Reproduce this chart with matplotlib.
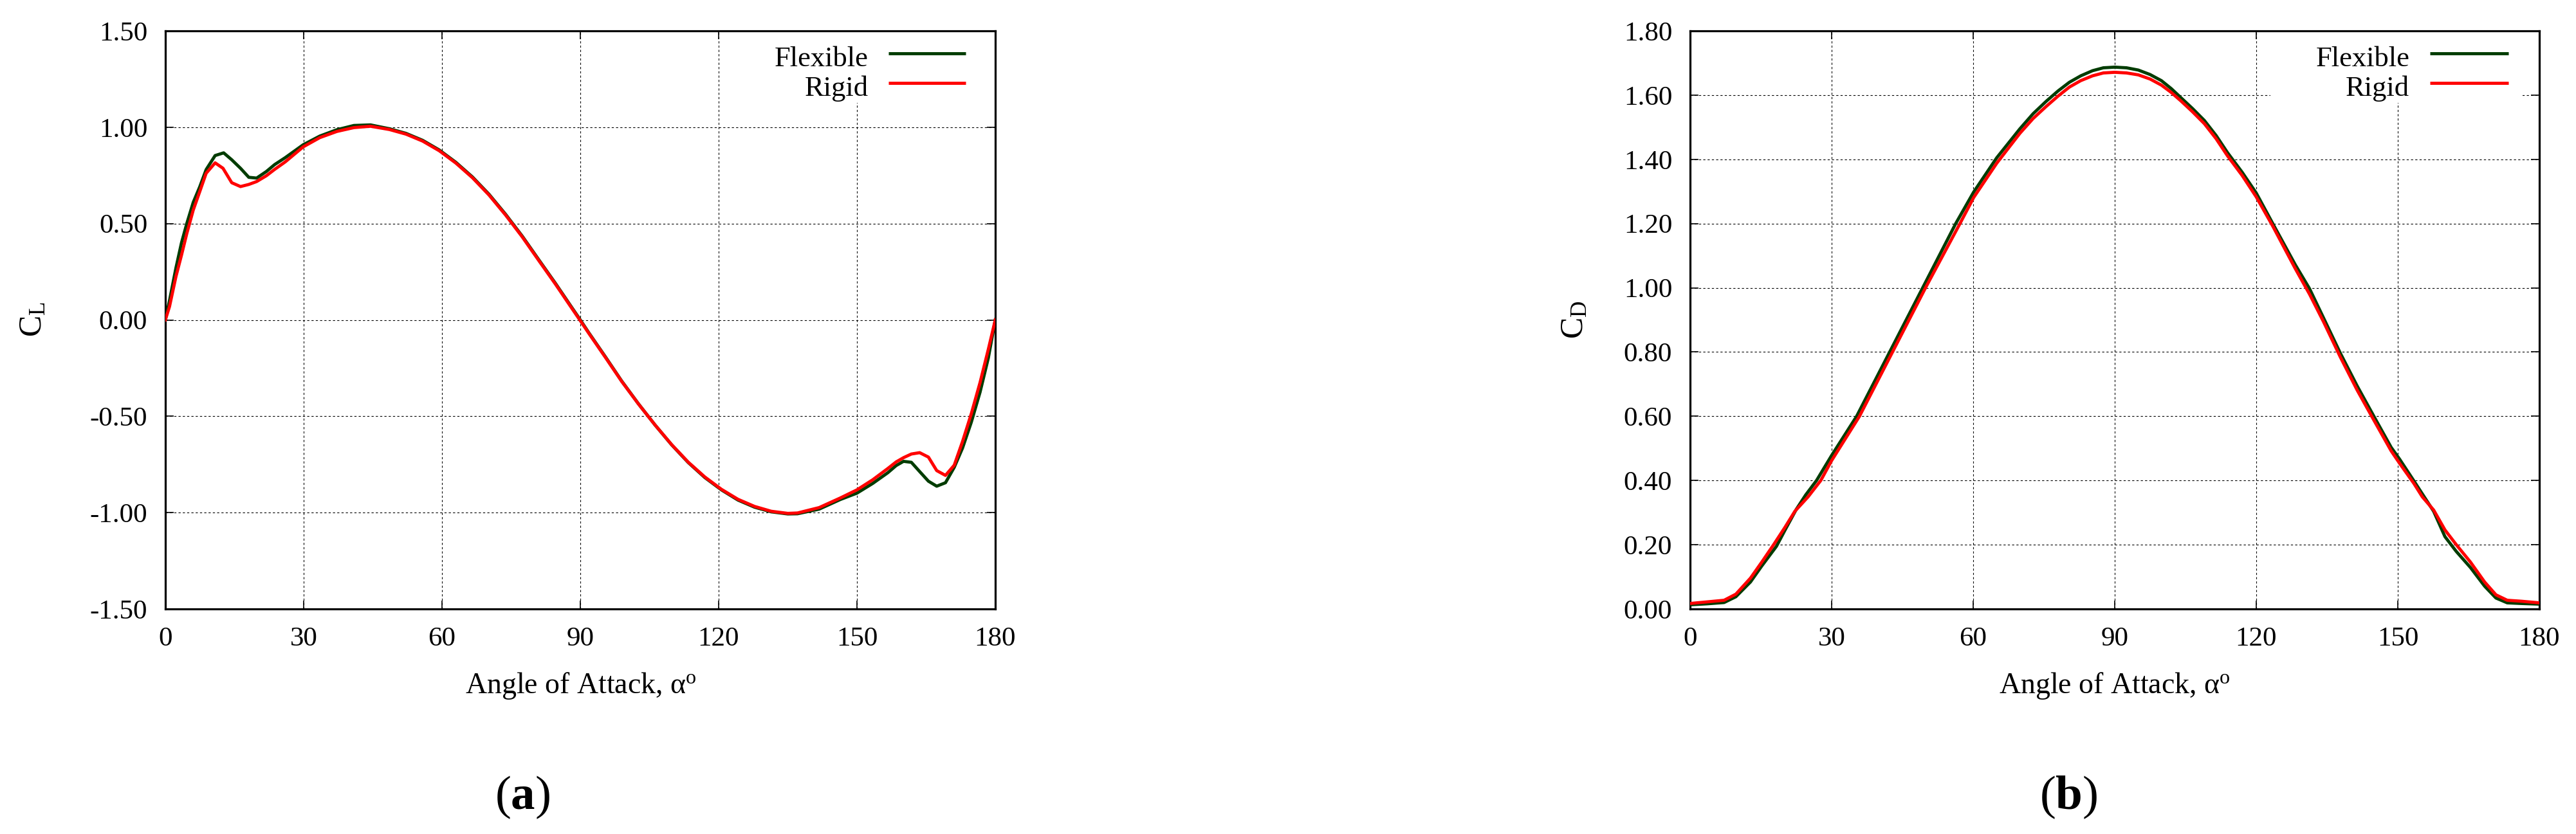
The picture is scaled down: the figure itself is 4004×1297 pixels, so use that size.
import matplotlib
matplotlib.use("Agg")
import matplotlib.pyplot as plt
from matplotlib.patches import Rectangle

plt.rcParams['font.family'] = ['Liberation Serif', 'DejaVu Serif']
plt.rcParams['mathtext.fontset'] = 'custom'
plt.rcParams['mathtext.rm'] = 'Liberation Serif'
plt.rcParams['mathtext.it'] = 'Liberation Serif:italic'
plt.rcParams['mathtext.bf'] = 'Liberation Serif:bold'

# ---------------- data ----------------
# Lift coefficient (panel a)
cl_flex_aoa = [0, 0.9, 2.3, 3.5, 4.65, 6.05, 7.45, 8.85, 10.8, 12.65, 14.4, 16.3, 18.1, 19.8,
               21.9, 23.7, 26.0, 29.9, 33.5, 37.2, 40.9, 44.5, 48.6, 52.2, 55.8, 59.4, 63.0,
               66.6, 70.2, 73.8, 77.4, 81.0, 84.6, 88.2, 90.0, 91.8, 95.4, 99.0, 102.6, 106.2,
               109.8, 113.4, 117.0, 120.6, 124.2, 127.8, 131.4, 135.0,
               137.1, 141.8, 146.4, 150.0, 153.4, 156.7, 158.5, 160.1, 161.8, 163.6, 165.5,
               167.3, 169.2, 171.1, 172.9, 174.8, 176.7, 178.5, 180.0]
cl_flex = [0.0, 0.10, 0.27, 0.40, 0.50, 0.61, 0.69, 0.78, 0.853, 0.867, 0.831, 0.787, 0.740, 0.736,
           0.770, 0.806, 0.842, 0.909, 0.954, 0.987, 1.009, 1.012, 0.992, 0.968, 0.932, 0.882,
           0.818, 0.742, 0.652, 0.548, 0.435, 0.312, 0.19, 0.063, 0.0, -0.065, -0.19, -0.318,
           -0.435, -0.545, -0.648, -0.74, -0.818, -0.882, -0.935, -0.972, -0.996, -1.007,
           -1.006, -0.982, -0.932, -0.899, -0.849, -0.793, -0.756, -0.734, -0.739, -0.787, -0.837,
           -0.863, -0.845, -0.765, -0.665, -0.531, -0.375, -0.197, 0.0]

cl_rigid_aoa = [0, 0.9, 2.3, 3.5, 4.65, 6.05, 7.45, 8.85, 10.8, 12.5, 14.4, 16.3, 18.1, 19.8,
                21.9, 23.7, 26.0, 29.9, 33.5, 37.2, 40.9, 44.5, 48.6, 52.2, 55.8, 59.4, 63.0,
                66.6, 70.2, 73.8, 77.4, 81.0, 84.6, 88.2, 90.0, 91.8, 95.4, 99.0, 102.6, 106.2,
                109.8, 113.4, 117.0, 120.6, 124.2, 127.8, 131.4, 135.0,
                137.1, 141.8, 146.4, 150.0, 153.4, 156.7, 158.5, 160.1, 161.8, 163.6, 165.5,
                167.3, 169.2, 171.1, 172.9, 174.8, 176.7, 178.5, 180.0]
cl_rigid = [0.0, 0.069, 0.225, 0.336, 0.448, 0.57, 0.665, 0.761, 0.815, 0.787, 0.712, 0.692, 0.703,
            0.718, 0.748, 0.781, 0.820, 0.898, 0.946, 0.978, 0.998, 1.005, 0.988, 0.964, 0.928,
            0.878, 0.814, 0.738, 0.648, 0.544, 0.431, 0.308, 0.186, 0.059, -0.004, -0.068,
            -0.193, -0.32, -0.436, -0.545, -0.647, -0.738, -0.815, -0.879, -0.931, -0.968,
            -0.993, -1.004,
            -1.002, -0.974, -0.924, -0.882, -0.830, -0.771, -0.737,
            -0.715, -0.696, -0.689, -0.712, -0.782, -0.807, -0.754, -0.631, -0.487, -0.325,
            -0.152, 0.0]

# Drag coefficient (panel b)
cd_flex_aoa = [0, 3.6, 7.2, 9.7, 12.8, 15.2, 18.3, 20.1, 22.5, 24.5, 26.8, 30.0, 35.3, 42.3,
               49.3, 56.3, 60.1, 65.0, 69.9, 72.7, 75.5, 78.0, 80.4, 82.8, 85.3, 87.6, 90.0,
               92.5, 95.0, 97.5, 99.9, 102.0, 104.1, 106.5, 109.0, 111.5, 113.9, 117.0,
               120.0, 123.5, 128.3, 131.3, 134.3, 137.8, 141.4, 145.0, 148.6, 150.4,
               153.4, 157.6, 160.0, 162.4, 165.4, 168.4, 170.8, 173.2, 176.2, 180.0]
cd_flex = [0.013, 0.016, 0.02, 0.038, 0.084, 0.134, 0.195, 0.245, 0.31, 0.355, 0.40, 0.478,
           0.60, 0.80, 1.0, 1.2, 1.298, 1.405, 1.495, 1.542, 1.581, 1.613, 1.64, 1.66, 1.676,
           1.685, 1.687, 1.685, 1.678, 1.664, 1.645, 1.62, 1.591, 1.558, 1.521, 1.474, 1.421,
           1.36, 1.295, 1.2, 1.071, 0.997, 0.905, 0.797, 0.694, 0.598, 0.503,
           0.466, 0.399, 0.304, 0.225, 0.179, 0.129, 0.071, 0.034, 0.019, 0.017, 0.015]

cd_rigid_aoa = [0, 3.6, 7.2, 9.7, 12.8, 15.2, 17.7, 20.1, 22.2, 25.0, 27.7, 30.0, 35.9, 42.9,
                49.9, 57.2, 60.1, 65.0, 69.9, 72.7, 75.5, 78.0, 80.4, 82.8, 85.3, 87.6, 90.0,
                92.5, 95.0, 97.5, 99.9, 102.0, 104.1, 106.5, 109.0, 111.5, 113.9, 117.0,
                120.0, 123.5, 128.3, 131.3, 134.3, 137.8, 141.4, 145.0, 148.6, 150.4,
                153.4, 155.2, 157.6, 160.0, 162.4, 165.4, 168.4, 170.8, 173.2, 176.2, 180.0]
cd_rigid = [0.017, 0.022, 0.027, 0.046, 0.096, 0.146, 0.2, 0.254, 0.304, 0.349, 0.4, 0.462,
            0.6, 0.8, 1.0, 1.2, 1.281, 1.388, 1.481, 1.527, 1.565, 1.597, 1.625, 1.645, 1.66,
            1.669, 1.671, 1.669, 1.663, 1.65, 1.631, 1.608, 1.581, 1.548, 1.511, 1.464, 1.411,
            1.35, 1.283, 1.192, 1.059, 0.98, 0.893, 0.785, 0.681, 0.586, 0.492,
            0.453, 0.391, 0.349, 0.308, 0.246, 0.2, 0.146, 0.084, 0.044, 0.027, 0.024, 0.019]

series_names = ["Flexible", "Rigid"]
series_colors = ["#003c00", "#ff0000"]
x_ticks = [0, 30, 60, 90, 120, 150, 180]
cl_ticks = [-1.5, -1.0, -0.5, 0.0, 0.5, 1.0, 1.5]
cd_ticks = [0.0, 0.2, 0.4, 0.6, 0.8, 1.0, 1.2, 1.4, 1.6, 1.8]
xlabel_text = "Angle of Attack, α$^{\\mathrm{o}}$"

# ---------------- figure ----------------
W, H = 4005, 1297
fig = plt.figure(figsize=(W / 100, H / 100), dpi=100)

def px_axes(l, t, r, b):
    return fig.add_axes([l / W, 1 - b / H, (r - l) / W, (b - t) / H])

axA = px_axes(257, 48, 1547, 947)
axB = px_axes(2627, 48, 3947, 947)

FS = 31
LW = 3.5

def style(ax, yticks, ylim):
    ax.set_xlim(0, 180)
    ax.set_ylim(*ylim)
    ax.set_xticks(x_ticks)
    ax.set_yticks(yticks)
    ax.set_yticklabels(["%.2f" % v for v in yticks])
    ax.set_xticklabels([str(v) for v in x_ticks])
    ax.tick_params(direction='in', length=9.5, width=1.2, top=True, right=True,
                   labelsize=FS, pad=20)
    for s in ax.spines.values():
        s.set_linewidth(2.3)
    ax.set_axisbelow(True)
    ax.grid(True, color='black', linewidth=0.8, linestyle=(0, (3, 3)))

def legend(ax):
    ax.add_patch(Rectangle((0.683, 0.875), 0.297, 0.124, transform=ax.transAxes,
                           facecolor='white', edgecolor='none', zorder=1))
    rows = [(0.9388, 0.961), (0.8877, 0.910)]
    for (name, col), (yb, yl) in zip(zip(series_names, series_colors), rows):
        ax.text(0.847, yb, name, transform=ax.transAxes, ha='right', va='baseline',
                fontsize=FS + 1, zorder=5)
        ax.plot([0.871, 0.964], [yl, yl], transform=ax.transAxes, color=col,
                linewidth=LW, solid_capstyle='butt', zorder=5)

# panel a
axA.plot(cl_flex_aoa, cl_flex, color=series_colors[0], linewidth=LW, zorder=3)
axA.plot(cl_rigid_aoa, cl_rigid, color=series_colors[1], linewidth=LW, zorder=4)
style(axA, cl_ticks, (-1.5, 1.5))
legend(axA)

# panel b
axB.plot(cd_flex_aoa, cd_flex, color=series_colors[0], linewidth=LW, zorder=3)
axB.plot(cd_rigid_aoa, cd_rigid, color=series_colors[1], linewidth=LW, zorder=4)
style(axB, cd_ticks, (0.0, 1.8))
legend(axB)

# axis titles
fig.text(903 / W, 1 - 1066 / H, xlabel_text, ha='center', va='center', fontsize=33)
fig.text(3287 / W, 1 - 1066 / H, xlabel_text, ha='center', va='center', fontsize=33)
fig.text(52 / W, 1 - 497 / H, "C$_{\\mathrm{L}}$", ha='center', va='center',
         rotation=90, fontsize=36)
fig.text(2448 / W, 1 - 497 / H, "C$_{\\mathrm{D}}$", ha='center', va='center',
         rotation=90, fontsize=36)

# panel captions
fig.text(812 / W, 1 - 1240 / H, "($\\mathbf{a}$)", ha='center', va='center', fontsize=54)
fig.text(3215 / W, 1 - 1240 / H, "($\\mathbf{b}$)", ha='center', va='center', fontsize=54)

fig.savefig("out.png", dpi=100, facecolor='white')
